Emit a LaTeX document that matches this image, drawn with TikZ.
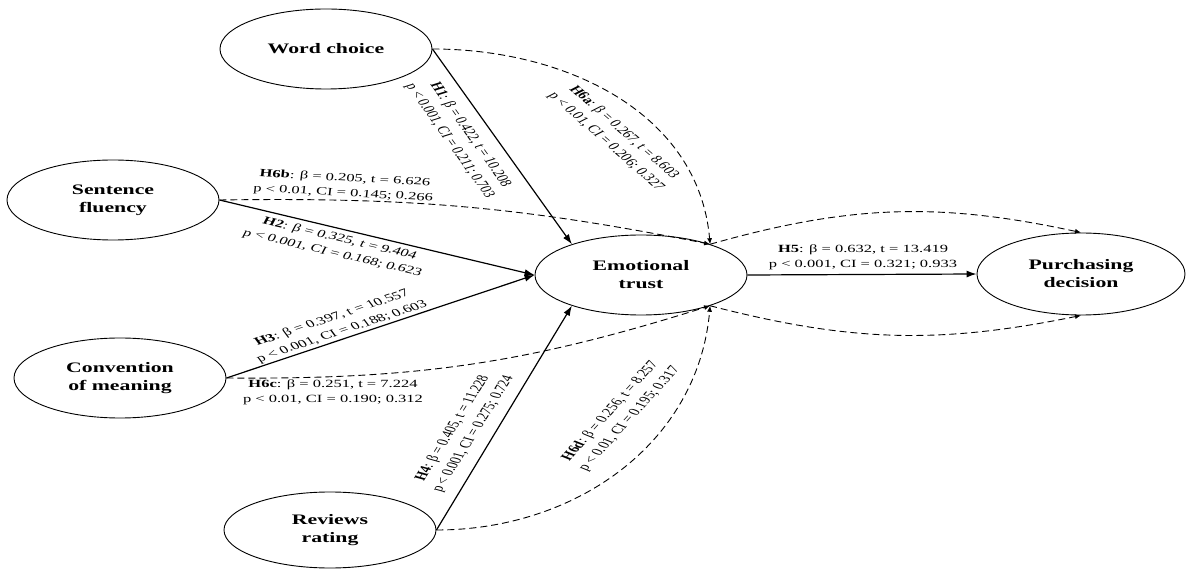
\documentclass[tikz,border=0pt]{standalone}
\usepackage{fontspec}
\setmainfont{Liberation Serif}
\newfontfamily\cfont{Liberation Serif}[FakeStretch=1.5]
\usetikzlibrary{shapes.geometric,arrows.meta}
\tikzset{
  construct/.style={ellipse, draw, line width=0.9pt, minimum width=212pt, minimum height=80pt,
    inner sep=1pt, align=center, font=\cfont\bfseries\fontsize{14.5}{18}\selectfont},
  lab/.style={align=center, inner sep=0pt, font=\fontsize{11}{15}\selectfont},
  solidarrow/.style={line width=1.2pt, -{Latex[length=10pt,width=7pt]}},
  dasharrow/.style={line width=0.9pt, dash pattern=on 7pt off 4pt, -{Latex[length=6pt,width=5pt]}}
}
\newcommand{\hlabel}[5]{%
  \begin{scope}[shift={(#2,#3)}, xscale=1.5, rotate=#4]
    \node[lab, transform shape] (#1) at (0,0) {#5};
  \end{scope}}
\begin{document}
\begin{tikzpicture}[x=1pt,y=1pt]
\useasboundingbox (0,0) rectangle (1187,-569);
% constructs
\node[construct] (wc) at (326,-49) {Word choice};
\node[construct] (sf) at (113,-200) {Sentence\\fluency};
\node[construct] (cm) at (120,-378) {Convention\\of meaning};
\node[construct, minimum height=76pt] (rr) at (330,-530) {Reviews\\rating};
\node[construct] (et) at (641,-275) {Emotional\\trust};
\node[construct, minimum width=208pt, minimum height=82pt] (pd) at (1081,-274) {Purchasing\\decision};
\coordinate (etA) at (et.24);
\coordinate (etB) at (et.-24);
% direct effects
\draw[solidarrow] (wc.east) -- (et.156);
\draw[solidarrow] (sf.east) -- (et.west);
\draw[solidarrow] (cm.east) -- (et.west);
\draw[solidarrow] (rr.east) -- (et.204);
\draw[solidarrow] (et.east) -- (pd.west);
% indirect (dashed)
\draw[dasharrow] (wc.east) to[out=0,in=95] (etA);
\draw[dasharrow] (sf.east) to[bend left=6] (etA);
\draw[dasharrow] (cm.east) to[bend right=9] (etB);
\draw[dasharrow] (rr.east) to[out=0,in=-95] (etB);
\draw[dasharrow] (etA) to[bend left=14] (pd.north);
\draw[dasharrow] (etB) to[bend right=13] (pd.south);
% labels
\hlabel{l1}{460}{-138}{-64.6}{\textbf{H1}: β = 0.422, t = 10.208\\p < 0.001, CI = 0.211; 0.703}
\hlabel{l2}{336}{-246}{-19.1}{\textbf{H2}: β = 0.325, t = 9.404\\p < 0.001, CI = 0.168; 0.623}
\hlabel{l3}{337}{-325}{26.4}{\textbf{H3}: β = 0.397, t = 10.557\\p < 0.001, CI = 0.188; 0.603}
\hlabel{l4}{463}{-431}{67.4}{\textbf{H4}: β = 0.405, t = 11.228\\p < 0.001, CI = 0.275; 0.724}
\hlabel{l5}{863}{-257}{0}{\textbf{H5}: β = 0.632, t = 13.419\\p < 0.001, CI = 0.321; 0.933}
\hlabel{l6a}{615}{-137}{-52.5}{\textbf{H6a}: β = 0.267, t = 8.603\\p < 0.01, CI = 0.206; 0.327}
\hlabel{l6b}{344}{-186}{-4.5}{\textbf{H6b}: β = 0.205, t = 6.626\\p < 0.01, CI = 0.145; 0.266}
\hlabel{l6c}{333}{-392}{0}{\textbf{H6c}: β = 0.251, t = 7.224\\p < 0.01, CI = 0.190; 0.312}
\hlabel{l6d}{620}{-415}{58.6}{\textbf{H6d}: β = 0.256, t = 8.257\\p < 0.01, CI = 0.195; 0.317}
\end{tikzpicture}
\end{document}
